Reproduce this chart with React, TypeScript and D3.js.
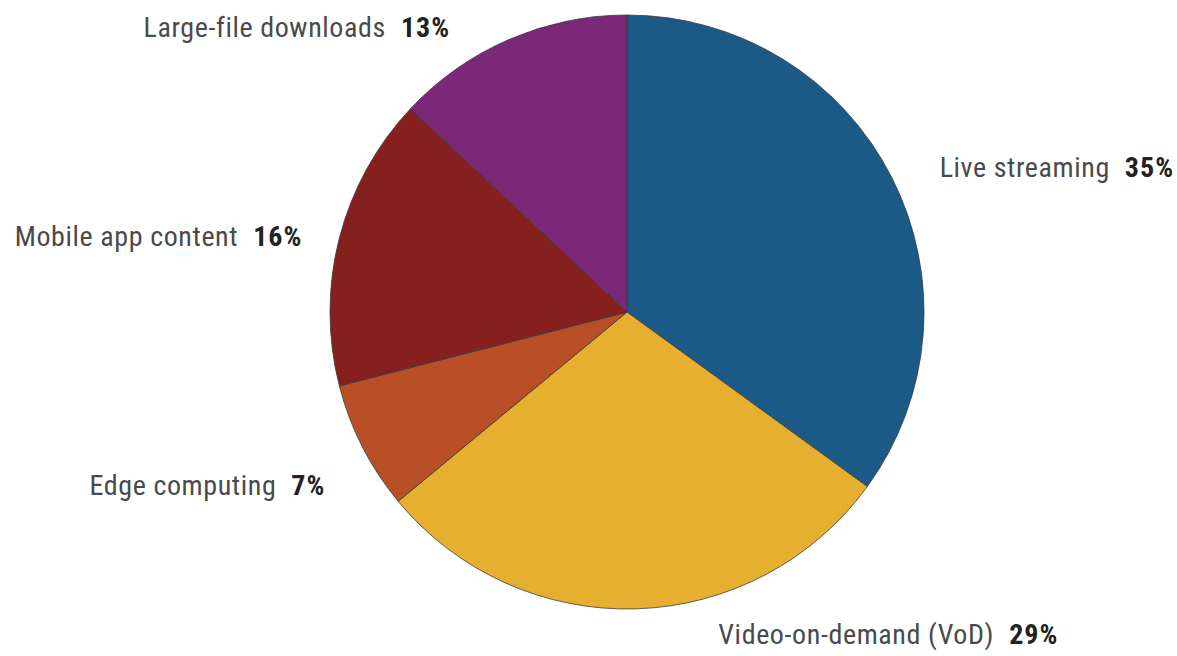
import React, { useEffect, useRef } from 'react';
import * as d3 from 'd3';

const categories = [
  'Live streaming',
  'Video-on-demand (VoD)',
  'Edge computing',
  'Mobile app content',
  'Large-file downloads',
];
const shares = [35, 29, 7, 16, 13];
const colors = ['#1b5a87', '#e6af2f', '#b94f26', '#85201f', '#7b2878'];

// label placement: anchor + offset from the slice's outer edge at its mid angle
const labelLayout: { anchor: 'start' | 'end'; dx: number; dy: number }[] = [
  { anchor: 'start', dx: 48, dy: 0 },
  { anchor: 'start', dx: 82, dy: 35 },
  { anchor: 'end', dx: -37, dy: 48 },
  { anchor: 'end', dx: -37, dy: 8 },
  { anchor: 'end', dx: -59, dy: -2 },
];

const W = 1177;
const H = 656;
const cx = 627;
const cy = 312;
const radius = 297;

const App: React.FC = () => {
  const ref = useRef<SVGSVGElement | null>(null);

  useEffect(() => {
    if (!ref.current) return;
    const svg = d3.select(ref.current);
    svg.selectAll('*').remove();

    const data = categories.map((c, i) => ({ name: c, value: shares[i], color: colors[i] }));
    const pie = d3.pie<typeof data[number]>().value(d => d.value).sort(null);
    const arc = d3.arc<d3.PieArcDatum<typeof data[number]>>().innerRadius(0).outerRadius(radius);
    const arcs = pie(data);

    const g = svg.append('g').attr('transform', `translate(${cx},${cy})`);

    g.selectAll('path')
      .data(arcs)
      .join('path')
      .attr('d', arc)
      .attr('fill', d => d.data.color)
      .attr('stroke', '#3a3a3a')
      .attr('stroke-width', 0.8);

    const labels = g.selectAll('text')
      .data(arcs)
      .join('text')
      .attr('transform', (d, i) => {
        const a = (d.startAngle + d.endAngle) / 2;
        const x = Math.sin(a) * radius + labelLayout[i].dx;
        const y = -Math.cos(a) * radius + labelLayout[i].dy;
        return `translate(${x},${y})`;
      })
      .attr('text-anchor', (d, i) => labelLayout[i].anchor)
      .style('font-family', '"Roboto Condensed", "Liberation Sans Narrow", "DejaVu Sans Condensed", sans-serif')
      .style('font-stretch', 'condensed')
      .style('letter-spacing', '0.6px')
      .style('font-size', '28px');

    labels.append('tspan')
      .attr('fill', '#4a4a4a')
      .text(d => d.data.name);
    labels.append('tspan')
      .attr('dx', 15)
      .attr('fill', '#222')
      .attr('font-weight', 'bold')
      .style('letter-spacing', '1px')
      .text(d => `${d.data.value}%`);
  }, []);

  return <svg ref={ref} width={W} height={H} style={{ position: 'absolute', left: 0, top: 0, background: '#fff' }} />;
};

export default App;
